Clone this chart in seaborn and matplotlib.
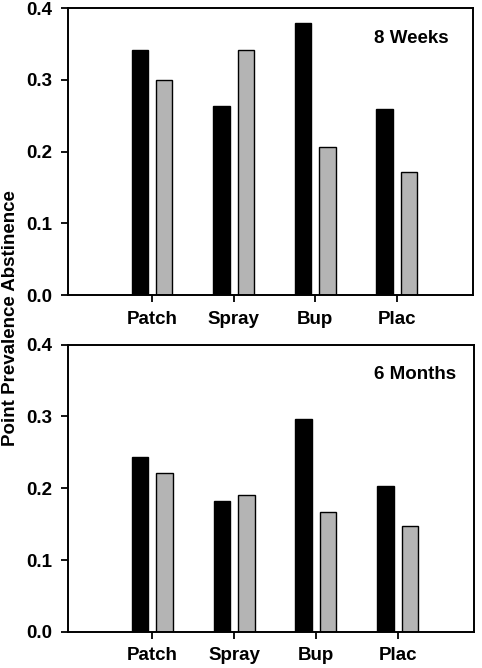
import pandas as pd
import matplotlib
matplotlib.use('Agg')
import matplotlib.pyplot as plt
import seaborn as sns

groups = ['Patch', 'Spray', 'Bup', 'Plac']
series = ['A', 'B']
weeks8_a = [0.342, 0.264, 0.379, 0.260]
weeks8_b = [0.300, 0.342, 0.206, 0.171]
months6_a = [0.243, 0.183, 0.296, 0.203]
months6_b = [0.222, 0.190, 0.167, 0.147]
yticks = [0.0, 0.1, 0.2, 0.3, 0.4]

sns.set_style('ticks')
plt.rcParams['font.family'] = ['Liberation Sans', 'DejaVu Sans']
plt.rcParams['font.weight'] = 'bold'
plt.rcParams['text.color'] = 'black'
plt.rcParams['xtick.color'] = 'black'
plt.rcParams['ytick.color'] = 'black'


def make_df(a, b):
    return pd.DataFrame({
        'Grupo': groups * 2,
        'Serie': [series[0]] * 4 + [series[1]] * 4,
        'Valor': a + b,
    })


fig = plt.figure(figsize=(4.82, 6.68), dpi=100)
ax1 = fig.add_axes([0.141, 0.558, 0.840, 0.430])
ax2 = fig.add_axes([0.141, 0.054, 0.842, 0.430])

paneles = [(ax1, weeks8_a, weeks8_b, '8 Weeks'),
           (ax2, months6_a, months6_b, '6 Months')]

for ax, a, b, titulo in paneles:
    sns.barplot(data=make_df(a, b), x='Grupo', y='Valor', hue='Serie',
                palette=['black', '#b4b4b4'], width=0.6, gap=0.33,
                edgecolor='black', linewidth=1, ax=ax, legend=False)
    ax.set_xlim(-1.03, 3.93)
    ax.set_ylim(0, 0.4)
    ax.set_yticks(yticks)
    ax.set_yticklabels(['%.1f' % v for v in yticks])
    ax.set_xlabel('')
    ax.set_ylabel('')
    for s in ax.spines.values():
        s.set_visible(True)
        s.set_linewidth(1.4)
        s.set_color('black')
    ax.tick_params(direction='out', length=5, width=1.3, colors='black',
                   labelcolor='black', labelsize=13.5, pad=6)
    for lab in ax.get_xticklabels() + ax.get_yticklabels():
        lab.set_fontweight('bold')
    ax.text(0.755, 0.895, titulo, transform=ax.transAxes, fontsize=13.5,
            fontweight='bold', va='center', ha='left', color='black')

fig.text(0.022, 0.524, 'Point Prevalence Abstinence', rotation=90,
         fontsize=13.5, fontweight='bold', va='center', ha='center',
         color='black')

fig.savefig('out.png', dpi=100)
